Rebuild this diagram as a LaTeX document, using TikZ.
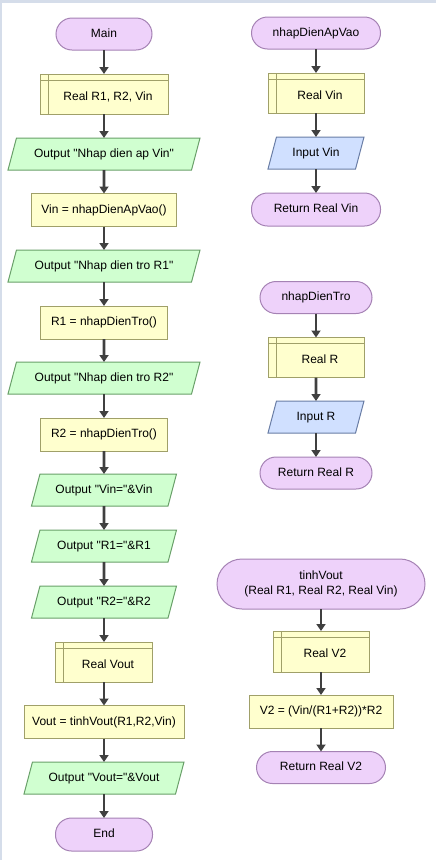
\documentclass[tikz,border=0pt]{standalone}
\usepackage{fontspec}
\setmainfont{Liberation Sans}[Ligatures=TeXOff]
\usetikzlibrary{arrows.meta,positioning,shapes.geometric}

\definecolor{framecol}{RGB}{213,221,234}
\definecolor{termfill}{RGB}{238,210,250}
\definecolor{termline}{RGB}{165,130,180}
\definecolor{procfill}{RGB}{255,255,206}
\definecolor{procline}{RGB}{160,160,105}
\definecolor{outfill}{RGB}{208,255,208}
\definecolor{outline}{RGB}{105,160,105}
\definecolor{infill}{RGB}{208,224,255}
\definecolor{inline}{RGB}{105,125,165}
\definecolor{arrowcol}{RGB}{64,64,64}

\begin{document}
\begin{tikzpicture}[x=1pt, y=-1pt,
	every node/.style={outer sep=0pt, line width=1pt, font=\fontsize{12}{15}\selectfont, text height=9pt, text depth=2.5pt},
	term/.style={draw=termline, fill=termfill, rounded corners=16pt, minimum height=32pt},
	proc/.style={draw=procline, fill=procfill, minimum height=33pt},
	decl/.style={draw=procline, fill=procfill, minimum height=40pt, text height=15pt,
		execute at begin node={\hspace*{8pt}},
		path picture={\draw[procline, line width=1pt]
			([yshift=-6pt]path picture bounding box.north west) -- ([yshift=-6pt]path picture bounding box.north east)
			([xshift=8pt]path picture bounding box.north west) -- ([xshift=8pt]path picture bounding box.south west);}},
	para/.style={trapezium, trapezium left angle=65, trapezium right angle=115, trapezium stretches body, minimum height=32pt},
	outp/.style={para, draw=outline, fill=outfill},
	inp/.style={para, draw=inline, fill=infill},
	flowarrow/.style={draw=arrowcol, line width=2.6pt, -{Triangle[length=7pt, width=9pt]}}]

	\useasboundingbox (0,0) rectangle (436,860);
	\fill[framecol] (0,0) rectangle (436,3);
	\fill[framecol] (0,0) rectangle (2,860);

	\node[term, minimum width=96pt] (main) at (104,34) {Main};
	\node[decl, minimum width=128pt] (declRVin) at (104,94) {Real R1, R2, Vin};
	\node[outp, minimum width=192pt] (outNhapVin) at (104,154) {Output "Nhap dien ap Vin"};
	\node[proc, minimum width=145pt] (setVin) at (104,210) {Vin = nhapDienApVao()};
	\node[outp, minimum width=192pt] (outNhapR1) at (104,266) {Output "Nhap dien tro R1"};
	\node[proc, minimum width=127pt] (setR1) at (104,322.5) {R1 = nhapDienTro()};
	\node[outp, minimum width=192pt] (outNhapR2) at (104,378) {Output "Nhap dien tro R2"};
	\node[proc, minimum width=127pt] (setR2) at (104,434.5) {R2 = nhapDienTro()};
	\node[outp, minimum width=145pt] (outVin) at (104,490) {Output "Vin="\&Vin};
	\node[outp, minimum width=145pt] (outR1) at (104,546) {Output "R1="\&R1};
	\node[outp, minimum width=145pt] (outR2) at (104,602) {Output "R2="\&R2};
	\node[decl, minimum width=97pt] (declVout) at (104,662) {Real Vout};
	\node[proc, minimum width=160pt] (setVout) at (104,722) {Vout = tinhVout(R1,R2,Vin)};
	\node[outp, minimum width=160pt] (outVout) at (104,778) {Output "Vout="\&Vout};
	\node[term, minimum width=97pt, minimum height=33pt] (end) at (104,834.5) {End};

	\node[term, minimum width=129pt] (nhapDienApVao) at (316,33) {nhapDienApVao};
	\node[decl, minimum width=96pt] (declVin) at (316,93) {Real Vin};
	\node[inp, minimum width=96pt] (inVin) at (316,153) {Input Vin};
	\node[term, minimum width=129pt, minimum height=33pt] (retVin) at (316,209.5) {Return Real Vin};

	\node[term, minimum width=112pt] (nhapDienTro) at (316,297.5) {nhapDienTro};
	\node[decl, minimum width=96pt] (declR) at (316,357.5) {Real R};
	\node[inp, minimum width=96pt] (inR) at (316,417) {Input R};
	\node[term, minimum width=112pt] (retR) at (316,473) {Return Real R};

	\node[term, minimum width=208pt, minimum height=50pt, rounded corners=25pt, align=center, text height=, text depth=] (tinhVout) at (321,584) {tinhVout\\(Real R1, Real R2, Real Vin)};
	\node[decl, minimum width=96pt, minimum height=41pt] (declV2) at (321,651.5) {Real V2};
	\node[proc, minimum width=144pt] (setV2) at (321,711.5) {V2 = (Vin/(R1+R2))*R2};
	\node[term, minimum width=129pt] (retV2) at (321,767.5) {Return Real V2};

	\draw[flowarrow] (main) -- (declRVin);
	\draw[flowarrow] (declRVin) -- (outNhapVin);
	\draw[flowarrow] (outNhapVin) -- (setVin);
	\draw[flowarrow] (setVin) -- (outNhapR1);
	\draw[flowarrow] (outNhapR1) -- (setR1);
	\draw[flowarrow] (setR1) -- (outNhapR2);
	\draw[flowarrow] (outNhapR2) -- (setR2);
	\draw[flowarrow] (setR2) -- (outVin);
	\draw[flowarrow] (outVin) -- (outR1);
	\draw[flowarrow] (outR1) -- (outR2);
	\draw[flowarrow] (outR2) -- (declVout);
	\draw[flowarrow] (declVout) -- (setVout);
	\draw[flowarrow] (setVout) -- (outVout);
	\draw[flowarrow] (outVout) -- (end);

	\draw[flowarrow] (nhapDienApVao) -- (declVin);
	\draw[flowarrow] (declVin) -- (inVin);
	\draw[flowarrow] (inVin) -- (retVin);

	\draw[flowarrow] (nhapDienTro) -- (declR);
	\draw[flowarrow] (declR) -- (inR);
	\draw[flowarrow] (inR) -- (retR);

	\draw[flowarrow] (tinhVout) -- (declV2);
	\draw[flowarrow] (declV2) -- (setV2);
	\draw[flowarrow] (setV2) -- (retV2);
\end{tikzpicture}
\end{document}
